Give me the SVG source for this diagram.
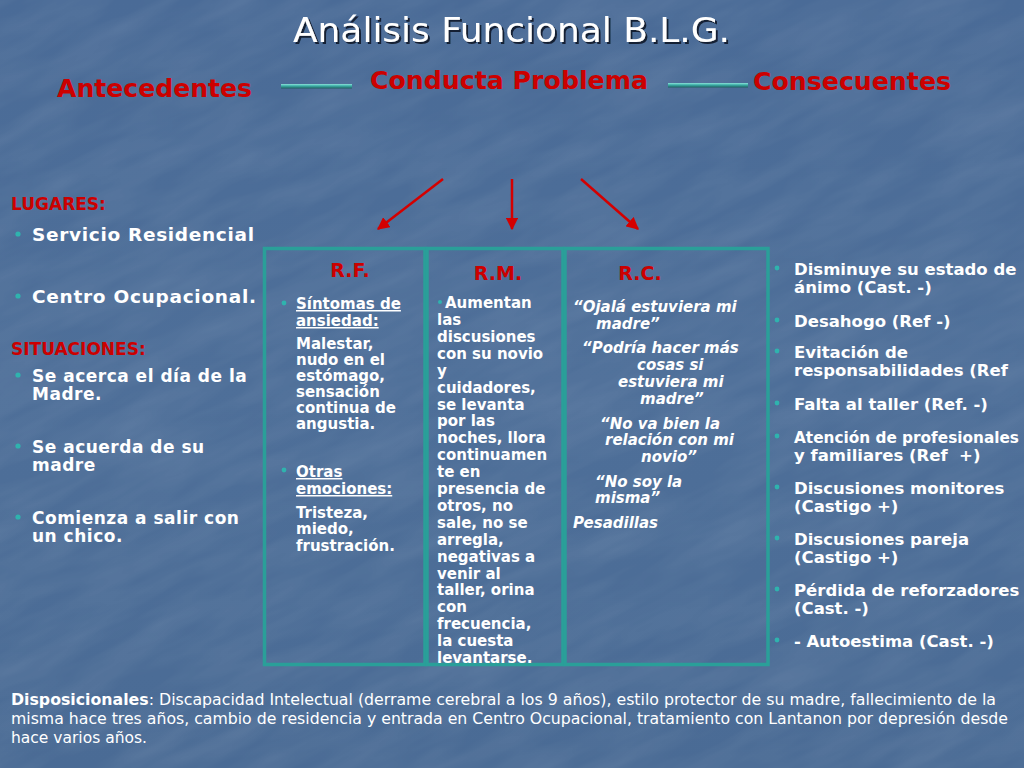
<svg xmlns="http://www.w3.org/2000/svg" width="1024" height="768" viewBox="0 0 1024 768">
<defs>
<style>
.t{font-family:"DejaVu Sans",Verdana,sans-serif;font-weight:bold;fill:#ffffff}
.red{fill:#cc0000}
.cond{font-family:"DejaVu Sans Condensed","DejaVu Sans",sans-serif}
.it{font-style:italic}
.l{font-size:17px;letter-spacing:0.5px}
.l1{font-size:18.5px}
.c{font-size:15px}
.r{font-size:16.5px}
.bul{fill:#2fb3ae}
.cell{fill:none;stroke:#2a9f99;stroke-width:3.5}
.arr{stroke:#d40000;stroke-width:2.5;fill:none;marker-end:url(#ah)}
</style>
<marker id="ah" viewBox="0 0 10 10" refX="9" refY="5" markerWidth="5" markerHeight="5" orient="auto" markerUnits="strokeWidth">
<path d="M0,0 L10,5 L0,10 z" fill="#d40000"/>
</marker>
<linearGradient id="bg" x1="0" y1="0" x2="0" y2="1">
<stop offset="0" stop-color="#4a6b97"/>
<stop offset="0.5" stop-color="#4e6f99"/>
<stop offset="1" stop-color="#4a6b95"/>
</linearGradient>
<linearGradient id="bar" x1="0" y1="0" x2="0" y2="1">
<stop offset="0" stop-color="#8fe0d8"/>
<stop offset="0.4" stop-color="#3fb3ab"/>
<stop offset="1" stop-color="#1d5f60"/>
</linearGradient>
<filter id="tex" x="0" y="0" width="100%" height="100%">
<feTurbulence type="fractalNoise" baseFrequency="0.01 0.045" numOctaves="3" seed="4"/>
<feColorMatrix type="matrix" values="0 0 0 0 1  0 0 0 0 1  0 0 0 0 1  0 0 0 0.18 -0.05"/>
</filter>
<filter id="sh" x="-5%" y="-20%" width="110%" height="150%">
<feDropShadow dx="2" dy="2" stdDeviation="0.6" flood-color="#10182a" flood-opacity="0.9"/>
</filter>
<clipPath id="rmclip"><rect x="428" y="250" width="134" height="413"/></clipPath>
</defs>

<rect x="0" y="0" width="1024" height="768" fill="url(#bg)"/>
<rect x="-400" y="-400" width="1824" height="1568" filter="url(#tex)" transform="rotate(-25 512 384)" opacity="0.7"/>

<g id="title">
<text x="293" y="42" class="cond" font-size="34" fill="#ffffff" textLength="437" lengthAdjust="spacingAndGlyphs" filter="url(#sh)">Análisis Funcional B.L.G.</text>
</g>

<g id="header">
<text x="57" y="97" class="t cond red" font-size="24" textLength="195" lengthAdjust="spacingAndGlyphs">Antecedentes</text>
<text x="370" y="89" class="t cond red" font-size="24" textLength="278" lengthAdjust="spacingAndGlyphs">Conducta Problema</text>
<text x="753" y="90" class="t cond red" font-size="24" textLength="198" lengthAdjust="spacingAndGlyphs">Consecuentes</text>
<rect x="281" y="84" width="71" height="4.5" fill="url(#bar)"/>
<rect x="668" y="83" width="80" height="4.5" fill="url(#bar)"/>
</g>

<g id="connectors">
<line class="arr" x1="443" y1="179" x2="378" y2="229"/>
<line class="arr" x1="512" y1="179" x2="512" y2="229"/>
<line class="arr" x1="581" y1="179" x2="638" y2="229"/>
</g>

<g id="antecedentes">
<text x="11" y="210" class="t red" font-size="17">LUGARES:</text>
<circle class="bul" cx="18" cy="234" r="2.6"/>
<text x="32" y="241" class="t l1" textLength="222" lengthAdjust="spacing">Servicio Residencial</text>
<circle class="bul" cx="18" cy="296" r="2.6"/>
<text x="32" y="303" class="t l1" textLength="224" lengthAdjust="spacing">Centro Ocupacional.</text>
<text x="11" y="355" class="t red" font-size="17">SITUACIONES:</text>
<circle class="bul" cx="18" cy="375" r="2.6"/>
<text class="t l"><tspan x="32" y="381.5">Se acerca el día de la</tspan><tspan x="32" y="399.5">Madre.</tspan></text>
<circle class="bul" cx="18" cy="446" r="2.6"/>
<text class="t l"><tspan x="32" y="452.5">Se acuerda de su</tspan><tspan x="32" y="470.5">madre</tspan></text>
<circle class="bul" cx="18" cy="517" r="2.6"/>
<text class="t l"><tspan x="32" y="523.5">Comienza a salir con</tspan><tspan x="32" y="541.5">un chico.</tspan></text>
</g>

<g id="rf">
<rect class="cell" x="264.5" y="248.5" width="160.5" height="416"/>
<text x="350" y="277" class="t red" font-size="19" text-anchor="middle">R.F.</text>
<circle class="bul" cx="284" cy="303" r="2.4"/>
<text class="t c" text-decoration="underline"><tspan x="296" y="309">Síntomas de</tspan><tspan x="296" y="326">ansiedad:</tspan></text>
<text class="t c"><tspan x="296" y="349">Malestar,</tspan><tspan x="296" y="365">nudo en el</tspan><tspan x="296" y="381">estómago,</tspan><tspan x="296" y="397">sensación</tspan><tspan x="296" y="413">continua de</tspan><tspan x="296" y="429">angustia.</tspan></text>
<circle class="bul" cx="284" cy="470" r="2.4"/>
<text class="t c" text-decoration="underline"><tspan x="296" y="477">Otras</tspan><tspan x="296" y="494">emociones:</tspan></text>
<text class="t c"><tspan x="296" y="518">Tristeza,</tspan><tspan x="296" y="534">miedo,</tspan><tspan x="296" y="551">frustración.</tspan></text>
</g>

<g id="rm">
<rect class="cell" x="427" y="248.5" width="136" height="416"/>
<text x="498" y="280" class="t red" font-size="19" text-anchor="middle">R.M.</text>
<circle class="bul" cx="440" cy="302" r="2"/>
<text class="t c" clip-path="url(#rmclip)"><tspan x="445" y="308">Aumentan</tspan><tspan x="437" y="325">las</tspan><tspan x="437" y="342">discusiones</tspan><tspan x="437" y="359">con su novio</tspan><tspan x="437" y="376">y</tspan><tspan x="437" y="393">cuidadores,</tspan><tspan x="437" y="410">se levanta</tspan><tspan x="437" y="426">por las</tspan><tspan x="437" y="443">noches, llora</tspan><tspan x="437" y="460">continuamen</tspan><tspan x="437" y="477">te en</tspan><tspan x="437" y="494">presencia de</tspan><tspan x="437" y="511">otros, no</tspan><tspan x="437" y="528">sale, no se</tspan><tspan x="437" y="545">arregla,</tspan><tspan x="437" y="562">negativas a</tspan><tspan x="437" y="579">venir al</tspan><tspan x="437" y="595">taller, orina</tspan><tspan x="437" y="612">con</tspan><tspan x="437" y="629">frecuencia,</tspan><tspan x="437" y="646">la cuesta</tspan><tspan x="437" y="663">levantarse.</tspan></text>
</g>

<g id="rc">
<rect class="cell" x="565" y="248.5" width="203" height="416"/>
<text x="640" y="280" class="t red" font-size="19" text-anchor="middle">R.C.</text>
<text class="t it c"><tspan x="573" y="312">“Ojalá estuviera mi</tspan><tspan x="596" y="329">madre”</tspan><tspan x="582" y="353">“Podría hacer más</tspan><tspan x="637" y="370">cosas si</tspan><tspan x="618" y="387">estuviera mi</tspan><tspan x="640" y="404">madre”</tspan><tspan x="600" y="429">“No va bien la</tspan><tspan x="605" y="445">relación con mi</tspan><tspan x="641" y="462">novio”</tspan><tspan x="595" y="487">“No soy la</tspan><tspan x="595" y="503">misma”</tspan><tspan x="573" y="528">Pesadillas</tspan></text>
</g>

<g id="consecuentes">
<circle class="bul" cx="777" cy="268" r="2.4"/>
<text class="t r"><tspan x="794" y="275">Disminuye su estado de</tspan><tspan x="794" y="293">ánimo (Cast. -)</tspan></text>
<circle class="bul" cx="777" cy="320" r="2.4"/>
<text x="794" y="327" class="t r">Desahogo (Ref -)</text>
<circle class="bul" cx="777" cy="351" r="2.4"/>
<text class="t r"><tspan x="794" y="358">Evitación de</tspan><tspan x="794" y="376">responsabilidades (Ref</tspan></text>
<circle class="bul" cx="777" cy="403" r="2.4"/>
<text x="794" y="410" class="t r">Falta al taller (Ref. -)</text>
<circle class="bul" cx="777" cy="436" r="2.4"/>
<text x="794" y="443" class="t" font-size="15.3">Atención de profesionales</text>
<text x="794" y="461" class="t r">y familiares (Ref&#160; +)</text>
<circle class="bul" cx="777" cy="487" r="2.4"/>
<text class="t r"><tspan x="794" y="494">Discusiones monitores</tspan><tspan x="794" y="512">(Castigo +)</tspan></text>
<circle class="bul" cx="777" cy="538" r="2.4"/>
<text class="t r"><tspan x="794" y="545">Discusiones pareja</tspan><tspan x="794" y="563">(Castigo +)</tspan></text>
<circle class="bul" cx="777" cy="589" r="2.4"/>
<text class="t r"><tspan x="794" y="596">Pérdida de reforzadores</tspan><tspan x="794" y="614">(Cast. -)</tspan></text>
<circle class="bul" cx="777" cy="640" r="2.4"/>
<text x="794" y="647" class="t r">- Autoestima (Cast. -)</text>
</g>

<g id="disposicionales" class="cond" font-size="15" fill="#ffffff">
<text x="11" y="705" textLength="985" lengthAdjust="spacingAndGlyphs"><tspan font-weight="bold">Disposicionales</tspan>: Discapacidad Intelectual (derrame cerebral a los 9 años), estilo protector de su madre, fallecimiento de la</text>
<text x="11" y="724" textLength="997" lengthAdjust="spacingAndGlyphs">misma hace tres años, cambio de residencia y entrada en Centro Ocupacional, tratamiento con Lantanon por depresión desde</text>
<text x="11" y="743" textLength="136" lengthAdjust="spacingAndGlyphs">hace varios años.</text>
</g>
</svg>
